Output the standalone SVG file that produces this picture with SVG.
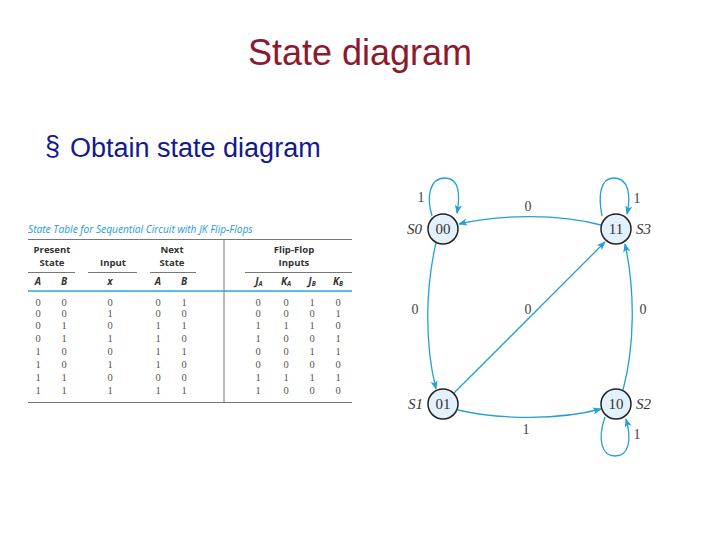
<svg xmlns="http://www.w3.org/2000/svg" width="720" height="540" viewBox="0 0 720 540">
<defs>
<marker id="ah" viewBox="0 0 10 10" refX="9" refY="5" markerWidth="9" markerHeight="9" markerUnits="userSpaceOnUse" orient="auto">
<path d="M0,1 L10,5 L0,9 L2.5,5 Z" fill="#23a0d4"/>
</marker>
</defs>
<style>
.title{font-family:"Liberation Sans",Arial,sans-serif;font-size:36px;fill:#8b1a2e}
.bullet{font-family:"Liberation Sans",Arial,sans-serif;font-size:27px;fill:#141a8c}
.tt{font-family:"Open Sans","Liberation Sans",sans-serif;font-style:italic;font-size:10.2px;fill:#1e9ad6}
.th{font-family:"Open Sans","Liberation Sans",sans-serif;font-weight:bold;font-size:9.6px;fill:#333;text-anchor:middle}
.tc{font-family:"Open Sans","Liberation Sans",sans-serif;font-weight:bold;font-style:italic;font-size:10px;fill:#333;text-anchor:middle}
.sub{font-size:6.5px}
.td{font-family:"Liberation Serif",serif;font-size:10.5px;fill:#555;text-anchor:middle}
.tl{stroke:#777;stroke-width:1}
.cl{stroke:#2aa6d8;stroke-width:1.5}
.node circle{fill:#e2f1fb;stroke:#222;stroke-width:1.5}
.nt{font-family:"Liberation Serif",serif;font-size:15px;fill:#333;text-anchor:middle}
.sl{font-family:"Liberation Serif",serif;font-style:italic;font-size:15px;fill:#333}
.el{font-family:"Liberation Serif",serif;font-size:14px;fill:#444;text-anchor:middle}
.edge{fill:none;stroke:#23a0d4;stroke-width:1.3;marker-end:url(#ah)}
</style>
<rect width="720" height="540" fill="#fff"/>
<text class="title" x="360" y="65" text-anchor="middle">State diagram</text>
<text class="bullet" x="45" y="155" font-size="14" fill="#1a2a9c">§</text>
<text class="bullet" x="70" y="157">Obtain state diagram</text>

<g id="table">
<text class="tt" x="28" y="233">State Table for Sequential Circuit with JK Flip-Flops</text>
<line class="tl" x1="28" y1="239.5" x2="352" y2="239.5"/>
<line class="tl" x1="224" y1="239.5" x2="224" y2="402"/>
<text class="th" x="52" y="253">Present</text>
<text class="th" x="52" y="266">State</text>
<text class="th" x="113" y="266">Input</text>
<text class="th" x="172" y="253">Next</text>
<text class="th" x="172" y="266">State</text>
<text class="th" x="294" y="253">Flip-Flop</text>
<text class="th" x="294" y="266">Inputs</text>
<line class="tl" x1="28" y1="272.5" x2="75" y2="272.5"/>
<line class="tl" x1="88" y1="272.5" x2="137" y2="272.5"/>
<line class="tl" x1="150" y1="272.5" x2="196" y2="272.5"/>
<line class="tl" x1="245" y1="272.5" x2="352" y2="272.5"/>
<text class="tc" x="38" y="285">A</text>
<text class="tc" x="64" y="285">B</text>
<text class="tc" x="110" y="285">x</text>
<text class="tc" x="158" y="285">A</text>
<text class="tc" x="184" y="285">B</text>
<text class="tc" x="259" y="285">J<tspan class="sub" dy="1">A</tspan></text>
<text class="tc" x="286" y="285">K<tspan class="sub" dy="1">A</tspan></text>
<text class="tc" x="312" y="285">J<tspan class="sub" dy="1">B</tspan></text>
<text class="tc" x="338" y="285">K<tspan class="sub" dy="1">B</tspan></text>
<line class="cl" x1="28" y1="291" x2="352" y2="291"/>
<g class="td">
<text x="38" y="306">0</text><text x="64" y="306">0</text><text x="110" y="306">0</text><text x="158" y="306">0</text><text x="184" y="306">1</text><text x="258" y="306">0</text><text x="286" y="306">0</text><text x="312" y="306">1</text><text x="338" y="306">0</text>
<text x="38" y="317">0</text><text x="64" y="317">0</text><text x="110" y="317">1</text><text x="158" y="317">0</text><text x="184" y="317">0</text><text x="258" y="317">0</text><text x="286" y="317">0</text><text x="312" y="317">0</text><text x="338" y="317">1</text>
<text x="38" y="329">0</text><text x="64" y="329">1</text><text x="110" y="329">0</text><text x="158" y="329">1</text><text x="184" y="329">1</text><text x="258" y="329">1</text><text x="286" y="329">1</text><text x="312" y="329">1</text><text x="338" y="329">0</text>
<text x="38" y="342">0</text><text x="64" y="342">1</text><text x="110" y="342">1</text><text x="158" y="342">1</text><text x="184" y="342">0</text><text x="258" y="342">1</text><text x="286" y="342">0</text><text x="312" y="342">0</text><text x="338" y="342">1</text>
<text x="38" y="355">1</text><text x="64" y="355">0</text><text x="110" y="355">0</text><text x="158" y="355">1</text><text x="184" y="355">1</text><text x="258" y="355">0</text><text x="286" y="355">0</text><text x="312" y="355">1</text><text x="338" y="355">1</text>
<text x="38" y="368">1</text><text x="64" y="368">0</text><text x="110" y="368">1</text><text x="158" y="368">1</text><text x="184" y="368">0</text><text x="258" y="368">0</text><text x="286" y="368">0</text><text x="312" y="368">0</text><text x="338" y="368">0</text>
<text x="38" y="381">1</text><text x="64" y="381">1</text><text x="110" y="381">0</text><text x="158" y="381">0</text><text x="184" y="381">0</text><text x="258" y="381">1</text><text x="286" y="381">1</text><text x="312" y="381">1</text><text x="338" y="381">1</text>
<text x="38" y="394">1</text><text x="64" y="394">1</text><text x="110" y="394">1</text><text x="158" y="394">1</text><text x="184" y="394">1</text><text x="258" y="394">1</text><text x="286" y="394">0</text><text x="312" y="394">0</text><text x="338" y="394">0</text>
</g>
<line class="tl" x1="28" y1="402.5" x2="352" y2="402.5"/>
</g>

<g id="connectors">
<path class="edge" d="M432,216 C426,196 430,178 445,178 C460,178 460,196 457,213"/>
<path class="edge" d="M602,216 C598,196 600,178 614,178 C629,178 631,196 627,214"/>
<path class="edge" d="M601,225 C560,214 500,214 459,224"/>
<path class="edge" d="M436,243 C425,290 425,345 436,389"/>
<path class="edge" d="M454,393 L605,242"/>
<path class="edge" d="M623,390 C635,345 635,290 625,244"/>
<path class="edge" d="M458,410 C500,420 560,420 601,409"/>
<path class="edge" d="M605,417 C597,440 602,456 615,456 C629,456 632,440 626,419"/>
<text class="el" x="421" y="202">1</text>
<text class="el" x="528" y="211">0</text>
<text class="el" x="637" y="203">1</text>
<text class="el" x="415" y="314">0</text>
<text class="el" x="528" y="314">0</text>
<text class="el" x="643" y="314">0</text>
<text class="el" x="526" y="434">1</text>
<text class="el" x="637" y="439">1</text>
</g>

<g id="S0" class="node"><circle cx="443" cy="229" r="15"/><text class="nt" x="443" y="234">00</text><text class="sl" x="407" y="234">S0</text></g>
<g id="S3" class="node"><circle cx="616" cy="229" r="15"/><text class="nt" x="616" y="234">11</text><text class="sl" x="636" y="234">S3</text></g>
<g id="S1" class="node"><circle cx="443" cy="404" r="15"/><text class="nt" x="443" y="409">01</text><text class="sl" x="408" y="409">S1</text></g>
<g id="S2" class="node"><circle cx="616" cy="404" r="15"/><text class="nt" x="616" y="409">10</text><text class="sl" x="636" y="409">S2</text></g>
</svg>
